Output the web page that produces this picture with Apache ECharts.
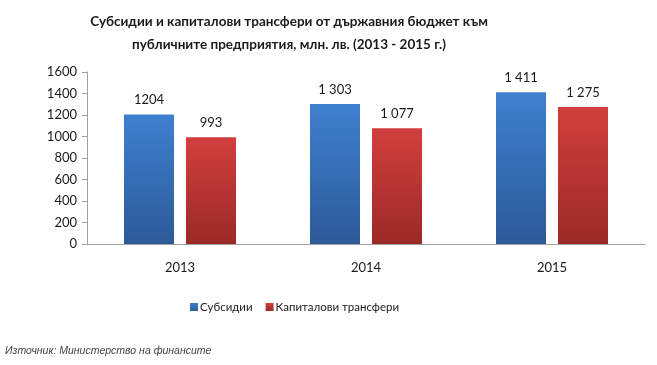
<!DOCTYPE html>
<html><head><meta charset="utf-8">
<script src="https://cdn.jsdelivr.net/npm/echarts@6/dist/echarts.min.js"></script>
<style>html,body{margin:0;padding:0;background:#fff}#c{width:657px;height:365px}</style>
</head><body><div id="c"></div>
<script>
const categories = ['2013', '2014', '2015'];
const subsidies = [1204, 1303, 1411];
const capital = [993, 1077, 1275];
const subsidyLabels = ['1204', '1 303', '1 411'];
const capitalLabels = ['993', '1 077', '1 275'];
const yTicks = [0, 200, 400, 600, 800, 1000, 1200, 1400, 1600];

const chart = echarts.init(document.getElementById('c'));
const font = 'Lato, Liberation Sans, Arial, sans-serif';
function grad(top, bottom) {
  return new echarts.graphic.LinearGradient(0, 0, 0, 1, [{offset: 0, color: top}, {offset: 1, color: bottom}]);
}
chart.setOption({
  animation: false,
  title: {
    text: 'Субсидии и капиталови трансфери от държавния бюджет към\nпубличните предприятия, млн. лв. (2013 - 2015 г.)',
    left: 284, top: 5, textAlign: 'center',
    textStyle: {fontFamily: font, fontSize: 13.5, fontWeight: 'bold', color: '#1a1a1a', lineHeight: 23}
  },
  legend: {
    data: ['Субсидии', 'Капиталови трансфери'],
    left: 185, top: 296, itemWidth: 8, itemHeight: 8, itemGap: 13,
    icon: 'rect',
    textStyle: {fontFamily: font, fontSize: 11.5, color: '#1a1a1a', padding: [0, 0, 0, -3]}
  },
  graphic: [{
    type: 'text', left: 5, top: 346,
    style: {text: 'Източник: Министерство на финансите', font: 'italic 10.5px Liberation Sans, Arial, sans-serif', fill: '#444'}
  }],
  grid: {left: 87, right: 12, top: 72, bottom: 121},
  xAxis: {
    type: 'category', data: categories,
    axisLine: {lineStyle: {color: '#a0a0a0'}},
    axisTick: {length: 5, lineStyle: {color: '#a0a0a0'}},
    axisLabel: {fontFamily: font, fontSize: 13, color: '#1a1a1a', margin: 17}
  },
  yAxis: {
    type: 'value', min: yTicks[0], max: yTicks[yTicks.length - 1], interval: 200,
    axisLine: {show: true, lineStyle: {color: '#a0a0a0'}},
    axisTick: {show: true, length: 5, lineStyle: {color: '#a0a0a0'}},
    splitLine: {show: false},
    axisLabel: {fontFamily: font, fontSize: 13, color: '#1a1a1a', margin: 10, formatter: v => String(v)}
  },
  series: [{
    name: 'Субсидии', type: 'bar', data: subsidies, barWidth: 50, barGap: '24%',
    itemStyle: {color: grad('#3f80cf', '#2c5a98')},
    label: {show: true, position: 'top', distance: 8, fontFamily: font, fontSize: 13, color: '#1a1a1a',
      formatter: p => subsidyLabels[p.dataIndex]}
  }, {
    name: 'Капиталови трансфери', type: 'bar', data: capital, barWidth: 50,
    itemStyle: {color: grad('#d13f3d', '#9b2a27')},
    label: {show: true, position: 'top', distance: 8, fontFamily: font, fontSize: 13, color: '#1a1a1a',
      formatter: p => capitalLabels[p.dataIndex]}
  }]
});
</script></body></html>
